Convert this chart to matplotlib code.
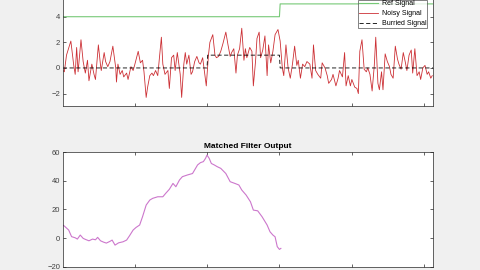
import numpy as np
import matplotlib
matplotlib.use("Agg")
import matplotlib.pyplot as plt

plt.rcParams['font.family'] = ['Liberation Sans', 'DejaVu Sans']

# reference (green) and buried (dashed) step signals
ref_idx = [1, 300, 301, 512]
ref_val = [4, 4, 5, 5]
buried_idx = [1, 200, 201, 300, 301, 512]
buried_val = [0, 0, 1, 1, 0, 0]

# noisy signal
noisy_idx = [1, 3, 6, 12, 16, 18, 20, 22, 26, 29, 32, 35, 37, 41, 44, 46, 50, 53, 54, 58,
             60, 63, 66, 70, 74, 75, 77, 80, 83, 85, 89, 91, 95, 98, 100, 105, 108, 111, 113, 116,
             118, 121, 124, 126, 129, 132, 137, 139, 142, 146, 148, 151, 154, 156, 159, 163, 165, 168, 170, 172,
             175, 178, 180, 183, 186, 189, 191, 194, 197, 199, 202, 204, 208, 211, 213, 216, 219, 222, 226, 229,
             232, 234, 237, 240, 242, 245, 248, 251, 253, 255, 259, 262, 264, 267, 269, 272, 274, 277, 280, 283,
             285, 288, 291, 294, 298, 301, 304, 306, 309, 312, 315, 318, 321, 324, 326, 329, 332, 335, 338, 342,
             345, 347, 350, 353, 357, 359, 363, 366, 368, 372, 374, 378, 381, 383, 387, 390, 392, 395, 398, 400,
             404, 407, 409, 411, 414, 417, 420, 422, 425, 428, 431, 433, 436, 438, 441, 443, 446, 449, 452, 454,
             457, 460, 463, 465, 468, 471, 474, 476, 479, 482, 484, 487, 490, 493, 495, 498, 501, 504, 506, 509,
             511]
noisy_val = [-0.2, -0.3, 1.0, 2.1, 0.2, -0.5, 1.6, -0.3, 2.2, 0.5, -0.4, 0.6, -1.0, 0.3, -0.5, -0.9, 1.8, 0.2, -0.2, 1.2,
             0.5, 0.1, 0.5, 1.7, 0.0, -1.1, 0.3, -0.5, -0.2, -0.7, -0.4, -0.9, 0.1, -0.2, 0.2, 1.3, 0.4, 0.6, -0.3, -2.3,
             -1.5, -0.6, -0.4, -0.6, -0.2, -0.6, 2.4, 0.3, -0.5, -0.2, -1.6, 0.8, 1.0, -0.2, 1.2, -0.5, -2.3, 0.3, 1.2, 0.3,
             1.0, -0.5, -0.3, 0.5, 0.9, 0.4, 0.3, 0.8, -0.5, -1.4, 1.0, 2.0, 2.6, 1.0, 0.8, 0.9, 1.3, 1.9, 2.8, 1.8,
             0.9, 1.2, 1.5, -0.4, 1.0, 1.5, 3.1, 0.6, 1.5, 0.8, 1.6, 1.3, -1.4, 0.5, 2.3, 2.8, 0.8, 1.4, 2.5, -0.6,
             1.8, 0.4, 1.3, 2.6, 3.0, 2.1, 0.0, -0.6, 1.8, 0.0, -0.8, 0.3, 1.7, 0.2, 0.6, -0.8, 0.3, 0.1, 0.5, 0.3,
             -0.8, 1.8, -0.2, -0.5, -0.8, 0.4, 0.0, -0.6, -1.2, -0.9, -0.5, -1.4, -0.8, -0.2, -0.7, 1.2, -1.4, -0.6, -1.4, -0.9,
             -1.5, -1.6, -2.0, 1.3, 2.2, -0.1, -0.3, 0.0, -0.5, -1.8, 0.2, 2.4, -1.2, -1.7, -0.3, -1.7, 1.1, 0.5, 0.1, -0.5,
             -0.8, 1.7, 0.7, 0.3, -0.1, 1.2, 0.4, -0.2, 1.0, 1.4, -0.4, 1.5, -0.6, -0.3, -0.9, 0.0, 0.2, -0.5, -0.3, -0.8,
             -0.6]

# matched filter output
mf_idx = [1, 3, 9, 13, 18, 21, 25, 29, 32, 37, 42, 46, 49, 53, 57, 61, 66, 69, 73, 78,
          84, 89, 93, 98, 102, 107, 111, 116, 121, 125, 132, 139, 143, 148, 153, 157, 162, 166, 173, 180,
          187, 191, 195, 198, 200, 203, 206, 210, 214, 219, 226, 232, 239, 244, 248, 254, 260, 264, 270, 276,
          283, 287, 291, 294, 297, 300, 302]
mf_val = [9.0, 8.4, 5.6, 1.0, 0.2, -0.7, 2.1, -0.2, -0.9, -1.9, -0.7, -1.2, 0.5, -1.9, -2.8, -3.5, -2.3, -1.4, -4.9, -3.3,
          -2.6, -1.4, 1.6, 5.6, 7.4, 9.1, 14.9, 23.0, 26.5, 27.7, 28.8, 28.8, 31.2, 34.0, 38.1, 35.8, 40.5, 42.8, 44.0, 45.0,
          51.0, 52.6, 53.3, 55.6, 57.9, 55.6, 52.0, 51.0, 49.8, 48.6, 45.0, 39.3, 38.0, 37.0, 33.5, 30.0, 25.3, 19.5, 19.0, 14.9,
          9.1, 4.4, 2.1, 0.9, -6.0, -7.9, -7.2]

fig = plt.figure(figsize=(4.8, 2.7), dpi=100, facecolor='#f0f0f0')


def matlab_style(ax):
    ax.set_facecolor('white')
    for s in ax.spines.values():
        s.set_color('#262626')
        s.set_linewidth(0.5)
    ax.tick_params(direction='in', length=2.5, width=0.5, colors='#262626',
                   labelsize=5.5, top=True, right=True, pad=2)
    ax.tick_params(labelcolor='#404040')
    ax.set_xlim(1, 512)
    ax.set_xticks([100, 200, 300, 400, 500])
    ax.set_xticklabels([])


# top axes (extends above the cropped figure)
ax1 = fig.add_axes([0.131, 0.606, 0.771, 0.427])
matlab_style(ax1)
ax1.plot(ref_idx, ref_val, color='#77c977', lw=0.8, label='Ref Signal')
ax1.plot(noisy_idx, noisy_val, color='#cc3035', lw=0.6, label='Noisy Signal')
ax1.plot(buried_idx, buried_val, color='black', lw=0.6, ls=(0, (5, 3)), label='Burried Signal')
ax1.set_ylim(-3, 6)
ax1.set_yticks([-2, 0, 2, 4])
leg = ax1.legend(loc='lower right', bbox_to_anchor=(427 / 480, 242 / 270),
                 bbox_transform=fig.transFigure, fontsize=5, frameon=True, fancybox=False,
                 edgecolor='#262626', handlelength=2.8, labelspacing=0.45, borderpad=0.08,
                 handletextpad=0.5, borderaxespad=0)
leg.get_frame().set_linewidth(0.5)

# bottom axes
ax2 = fig.add_axes([0.131, 0.012, 0.771, 0.425])
matlab_style(ax2)
ax2.plot(mf_idx, mf_val, color='#cc77cc', lw=0.8)
ax2.set_ylim(-20, 60)
ax2.set_yticks([-20, 0, 20, 40, 60])
ax2.set_title('Matched Filter Output', fontsize=6, fontweight='bold', color='black', pad=3)

fig.savefig('out.png', dpi=100, facecolor=fig.get_facecolor())
